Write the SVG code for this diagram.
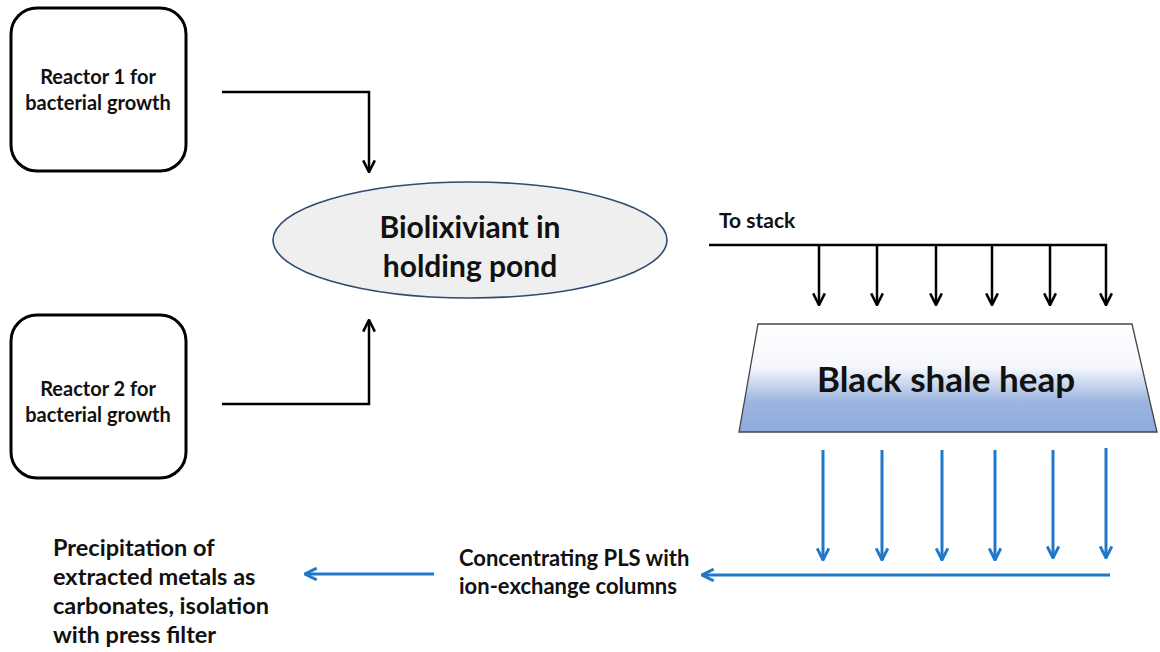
<svg xmlns="http://www.w3.org/2000/svg" width="1160" height="652" viewBox="0 0 1160 652">
<defs>
<style>
text{font-family:Lato,"Liberation Sans",sans-serif;font-weight:bold;fill:#111;}
.box{fill:#fff;stroke:#000;stroke-width:3;}
.blk{fill:none;stroke:#000;stroke-width:2.5;}
.blu{fill:none;stroke:#1f78c8;stroke-width:3;}
</style>
<marker id="ak" viewBox="0 0 12 12" refX="11" refY="6" markerWidth="14" markerHeight="14" markerUnits="userSpaceOnUse" orient="auto">
<path d="M1,1 L11,6 L1,11" fill="none" stroke="#000" stroke-width="2.2"/>
</marker>
<marker id="ab" viewBox="0 0 12 12" refX="11" refY="6" markerWidth="14" markerHeight="14" markerUnits="userSpaceOnUse" orient="auto">
<path d="M1,1 L11,6 L1,11" fill="none" stroke="#1f78c8" stroke-width="2.5"/>
</marker>
<linearGradient id="heapg" x1="0" y1="0" x2="0" y2="1">
<stop offset="0" stop-color="#ffffff"/>
<stop offset="0.4" stop-color="#f5f7fc"/>
<stop offset="0.72" stop-color="#9cb5e0"/>
<stop offset="1" stop-color="#8eaadc"/>
</linearGradient>
</defs>

<g id="reactor1">
<rect class="box" x="11" y="8" width="175" height="163" rx="26"/>
<text x="98" y="84" font-size="20" text-anchor="middle">Reactor 1 for</text>
<text x="98" y="110" font-size="20" text-anchor="middle">bacterial growth</text>
</g>

<g id="reactor2">
<rect class="box" x="11" y="315" width="175" height="163" rx="26"/>
<text x="98" y="396" font-size="20" text-anchor="middle">Reactor 2 for</text>
<text x="98" y="422" font-size="20" text-anchor="middle">bacterial growth</text>
</g>

<g id="pond">
<ellipse cx="470" cy="240" rx="197" ry="58" fill="#efefef" stroke="#2e4a6e" stroke-width="1.6"/>
<text x="470" y="238" font-size="30" text-anchor="middle">Biolixiviant in</text>
<text x="470" y="277" font-size="30" text-anchor="middle">holding pond</text>
</g>

<g id="tostack">
<text x="719" y="228" font-size="21">To stack</text>
</g>

<g id="heap">
<polygon points="758,324 1132,324 1157,432 739,432" fill="url(#heapg)" stroke="#444" stroke-width="1.3"/>
<text x="946" y="392" font-size="35" text-anchor="middle">Black shale heap</text>
</g>

<g id="concentrating">
<text x="459" y="566" font-size="22">Concentrating PLS with</text>
<text x="459" y="594" font-size="22">ion-exchange columns</text>
</g>

<g id="precipitation">
<text x="53" y="556" font-size="23.5">Precipitation of</text>
<text x="53" y="585" font-size="23.5">extracted metals as</text>
<text x="53" y="614" font-size="23.5">carbonates, isolation</text>
<text x="53" y="643" font-size="23.5">with press filter</text>
</g>

<g id="connectors">
<path class="blk" d="M222,92 H369 V172" marker-end="url(#ak)"/>
<path class="blk" d="M222,404 H369 V320" marker-end="url(#ak)"/>
<path class="blk" d="M709,245 H1106 V305" marker-end="url(#ak)"/>
<path class="blk" d="M819,245 V305" marker-end="url(#ak)"/>
<path class="blk" d="M877,245 V305" marker-end="url(#ak)"/>
<path class="blk" d="M936,245 V305" marker-end="url(#ak)"/>
<path class="blk" d="M992,245 V305" marker-end="url(#ak)"/>
<path class="blk" d="M1050,245 V305" marker-end="url(#ak)"/>
<path class="blu" d="M823,450 V560" marker-end="url(#ab)"/>
<path class="blu" d="M882,450 V560" marker-end="url(#ab)"/>
<path class="blu" d="M942,450 V560" marker-end="url(#ab)"/>
<path class="blu" d="M995,450 V560" marker-end="url(#ab)"/>
<path class="blu" d="M1053,450 V558" marker-end="url(#ab)"/>
<path class="blu" d="M1106,448 V558" marker-end="url(#ab)"/>
<path class="blu" d="M1110,575 H702" marker-end="url(#ab)"/>
<path class="blu" d="M434,574 H305" marker-end="url(#ab)"/>
</g>
</svg>
